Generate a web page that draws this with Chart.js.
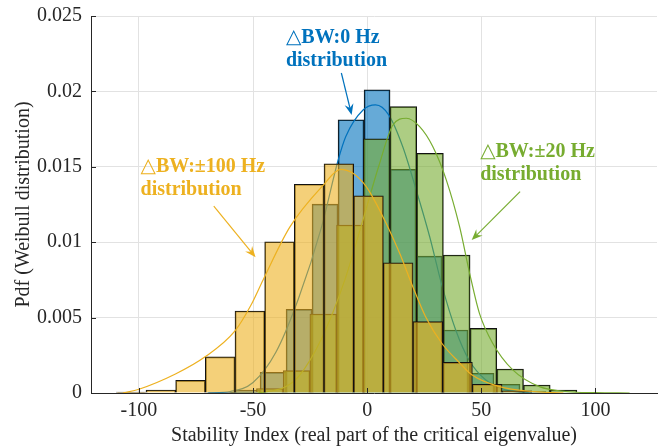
<!DOCTYPE html>
<html><head><meta charset="utf-8">
<script src="https://cdn.jsdelivr.net/npm/chart.js@4.4.0/dist/chart.umd.min.js"></script>
<style>html,body{margin:0;padding:0;background:#fff;}canvas{display:block;}</style>
</head><body>
<canvas id="c" width="661" height="448"></canvas>
<script>
// ---- axis ticks ----
const xTicks = [-100, -50, 0, 50, 100];
const xTickLabels = ['-100', '-50', '0', '50', '100'];
const yTicks = [0, 0.005, 0.01, 0.015, 0.02, 0.025];
const yTickLabels = ['0', '0.005', '0.01', '0.015', '0.02', '0.025'];

// ---- histogram: ΔBW 0 Hz (blue) ----
const blueBinCenters = [-64.00, -52.61, -41.22, -29.83, -18.44, -7.05, 4.34, 15.73, 27.12, 38.51, 49.90, 61.29, 72.68];
const blueBinValues  = [0.00005, 0.0002, 0.00137, 0.00555, 0.01253, 0.01812, 0.02011, 0.01483, 0.00908, 0.00418, 0.00131, 0.00058, 0.0001];
// ---- histogram: ΔBW ±20 Hz (green) ----
const greenBinCenters = [-54.35, -42.65, -30.95, -19.25, -7.55, 4.15, 15.85, 27.55, 39.25, 50.95, 62.65, 74.35, 86.05];
const greenBinValues  = [0.00005, 0.0003, 0.00148, 0.00524, 0.01114, 0.01686, 0.01899, 0.0159, 0.00915, 0.00429, 0.00159, 0.00053, 0.0002];
// ---- histogram: ΔBW ±100 Hz (yellow) ----
const yellowBinCenters = [-103.4, -90.4, -77.4, -64.4, -51.4, -38.4, -25.4, -12.4, 0.6, 13.6, 26.6, 39.6, 52.6, 65.6];
const yellowBinValues  = [0.00006, 0.0002, 0.00084, 0.0024, 0.00544, 0.01003, 0.01384, 0.0152, 0.01308, 0.00864, 0.00473, 0.00203, 0.00058, 0.00015];

// ---- fitted Weibull pdf curves ----
const blueCurveX = [-70, -60, -50, -40, -30, -20, -12.7, -9.4, -1.8, 3.7, 9.5, 15.6, 21.5, 27.4, 32.9, 38.8, 44.6, 52, 60.8, 72];
const blueCurveY = [0, 0.0001, 0.0007, 0.0027, 0.0063, 0.0110, 0.01545, 0.0170, 0.01877, 0.0191, 0.01843, 0.01633, 0.01346, 0.01036, 0.00705, 0.00418, 0.00219, 0.00086, 0.0002, 0];
const greenCurveX = [-48, -36, -30, -20, -10, -1.8, 5, 11.3, 17.2, 23, 28.8, 34.7, 40.5, 44.9, 49.2, 55, 63.8, 75.5, 87, 100, 115];
const greenCurveY = [0, 0.0004, 0.0011, 0.0036, 0.0074, 0.0115, 0.0150, 0.01777, 0.01822, 0.01766, 0.01633, 0.01412, 0.01103, 0.00794, 0.00528, 0.0033, 0.00153, 0.00042, 0.0001, 0.00002, 0];
const yellowCurveX = [-107, -100, -84, -71, -58, -51, -45.6, -33.9, -19.1, -11.7, -6.2, -0.4, 6.9, 14.2, 20, 25.6, 32.7, 40.7, 46, 58, 72.5, 86];
const yellowCurveY = [0, 0.00025, 0.00126, 0.0024, 0.0041, 0.0058, 0.0075, 0.0110, 0.0138, 0.01483, 0.01457, 0.01368, 0.01169, 0.00928, 0.00705, 0.00506, 0.0033, 0.00197, 0.00119, 0.00042, 0.0001, 0];

const BLUE = '#0072BD', GREEN = '#77AC30', YELLOW = '#EDB120';
const FONT = "'Liberation Serif','Times New Roman',serif";

const pts = (xs, ys) => xs.map((x, i) => ({x: x, y: ys[i]}));

function barDS(centers, values, fill, axis, order) {
  return {
    type: 'bar', data: pts(centers, values), xAxisID: axis, yAxisID: 'y',
    backgroundColor: fill, borderColor: '#111', borderWidth: 1,
    barPercentage: 1, categoryPercentage: 1, grouped: false, order: order
  };
}
function lineDS(xs, ys, color, order) {
  return {
    type: 'line', data: pts(xs, ys), xAxisID: 'x', yAxisID: 'y',
    borderColor: color, borderWidth: 1.2, pointRadius: 0, fill: false,
    cubicInterpolationMode: 'monotone', order: order
  };
}

const annotations = [
  {color: BLUE, tri: '\u25B3', lines: ['BW:0 Hz', 'distribution'], x: -35.6, y: [0.02321, 0.02166], from: [-11.3, 0.02122], to: [-6.8, 0.01844]},
  {color: YELLOW, tri: '\u25B3', lines: ['BW:\u00b1100 Hz', 'distribution'], x: -99.3, y: [0.01466, 0.01316], from: [-67.2, 0.0124], to: [-48.9, 0.0090]},
  {color: GREEN, tri: '\u25B3', lines: ['BW:\u00b120 Hz', 'distribution'], x: 49.5, y: [0.01567, 0.01412], from: [67.0, 0.01335], to: [45.8, 0.01014]}
];

const annotationPlugin = {
  id: 'annot',
  afterDraw(chart) {
    const ctx = chart.ctx, xs = chart.scales.x, ys = chart.scales.y;
    const ca = chart.chartArea;
    ctx.save();
    // inward ticks (MATLAB style)
    ctx.strokeStyle = '#262626'; ctx.lineWidth = 1;
    ctx.beginPath();
    yTicks.forEach(v => { const p = Math.round(ys.getPixelForValue(v)) + 0.5; ctx.moveTo(ca.left, p); ctx.lineTo(ca.left + 5, p); });
    xTicks.forEach(v => { const p = Math.round(xs.getPixelForValue(v)) + 0.5; ctx.moveTo(p, ca.bottom); ctx.lineTo(p, ca.bottom - 5); });
    ctx.stroke();
    // annotations
    ctx.textAlign = 'left'; ctx.textBaseline = 'alphabetic';
    annotations.forEach(a => {
      ctx.fillStyle = a.color; ctx.strokeStyle = a.color;
      const tx = xs.getPixelForValue(a.x);
      // first line: triangle symbol + text
      ctx.font = '20px ' + FONT + ",'DejaVu Sans'";
      const ty0 = ys.getPixelForValue(a.y[0]);
      ctx.fillText(a.tri, tx, ty0);
      const tw = ctx.measureText(a.tri).width;
      ctx.font = 'bold 20px ' + FONT;
      ctx.fillText(a.lines[0], tx + tw, ty0);
      ctx.fillText(a.lines[1], tx, ys.getPixelForValue(a.y[1]));
      const x1 = xs.getPixelForValue(a.from[0]), y1 = ys.getPixelForValue(a.from[1]);
      const x2 = xs.getPixelForValue(a.to[0]), y2 = ys.getPixelForValue(a.to[1]);
      const ang = Math.atan2(y2 - y1, x2 - x1);
      const L = 11, W = 4.5;
      ctx.lineWidth = 1.2;
      ctx.beginPath(); ctx.moveTo(x1, y1);
      ctx.lineTo(x2 - Math.cos(ang) * L * 0.6, y2 - Math.sin(ang) * L * 0.6); ctx.stroke();
      const bx = x2 - Math.cos(ang) * L, by = y2 - Math.sin(ang) * L;
      const nx = -Math.sin(ang), ny = Math.cos(ang);
      const mx = x2 - Math.cos(ang) * L * 0.65, my = y2 - Math.sin(ang) * L * 0.65;
      ctx.beginPath();
      ctx.moveTo(x2, y2);
      ctx.lineTo(bx + nx * W, by + ny * W);
      ctx.lineTo(mx, my);
      ctx.lineTo(bx - nx * W, by - ny * W);
      ctx.closePath(); ctx.fill();
    });
    ctx.restore();
  }
};

const setTicks = vals => (s => { s.ticks = vals.map(v => ({value: v})); });
const hiddenX = {type: 'linear', axis: 'x', position: 'bottom', display: false, min: -121, max: 127, offset: false, grid: {offset: false}, afterBuildTicks: setTicks(xTicks)};

new Chart(document.getElementById('c'), {
  type: 'bar',
  data: {
    datasets: [
      lineDS(yellowCurveX, yellowCurveY, YELLOW, 1),
      barDS(yellowBinCenters, yellowBinValues, 'rgba(237,177,32,0.6)', 'xy', 2),
      lineDS(greenCurveX, greenCurveY, GREEN, 3),
      barDS(greenBinCenters, greenBinValues, 'rgba(119,172,48,0.6)', 'xg', 4),
      lineDS(blueCurveX, blueCurveY, BLUE, 5),
      barDS(blueBinCenters, blueBinValues, 'rgba(0,114,189,0.6)', 'xb', 6)
    ]
  },
  options: {
    responsive: false, animation: false, devicePixelRatio: 1,
    layout: {padding: {left: 0, right: 4, top: 16, bottom: 0}},
    plugins: {legend: {display: false}, tooltip: {enabled: false}},
    scales: {
      x: {
        type: 'linear', position: 'bottom', min: -121, max: 127, offset: false,
        afterBuildTicks: setTicks(xTicks),
        afterFit: s => { s.height = 55; s.paddingLeft = 0; s.paddingRight = 0; },
        grid: {color: '#e2e2e2', drawTicks: false, offset: false},
        border: {color: '#262626', width: 1},
        ticks: {padding: 6, color: '#262626', font: {family: FONT, size: 20}, maxRotation: 0,
                callback: (v) => xTickLabels[xTicks.indexOf(v)] ?? ''},
        title: {display: true, text: 'Stability Index (real part of the critical eigenvalue)', color: '#262626',
                font: {family: FONT, size: 20}, padding: {top: 0, bottom: 0}}
      },
      xb: hiddenX, xg: hiddenX, xy: hiddenX,
      y: {
        type: 'linear', position: 'left', min: 0, max: 0.025,
        afterBuildTicks: setTicks(yTicks),
        afterFit: s => { s.width = 91; s.paddingTop = 0; s.paddingBottom = 0; },
        grid: {color: '#e2e2e2', drawTicks: false},
        border: {color: '#262626', width: 1},
        ticks: {padding: 9, color: '#262626', font: {family: FONT, size: 20},
                callback: (v) => yTickLabels[yTicks.indexOf(v)] ?? ''},
        title: {display: true, text: 'Pdf (Weibull distribution)', color: '#262626',
                font: {family: FONT, size: 20}, padding: {top: 12, bottom: 0}}
      }
    }
  },
  plugins: [annotationPlugin]
});
</script>
</body></html>
